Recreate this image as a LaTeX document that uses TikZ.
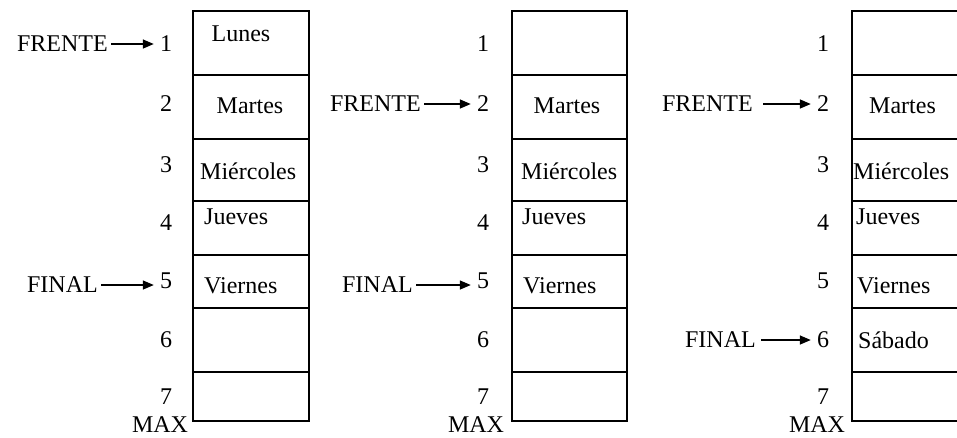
\documentclass[tikz,border=0pt]{standalone}
\usepackage{fontspec}
\setmainfont{Liberation Serif}
\usetikzlibrary{arrows.meta}
\tikzset{
  x=1pt,y=-1pt,
  every node/.style={font=\fontsize{24}{27}\selectfont, inner sep=0pt},
  cellbox/.style={draw, line width=1.5pt},
  num/.style={anchor=center},
  maxlbl/.style={anchor=base},
  ptr/.style={line width=1.4pt, -{Triangle[length=11pt,width=9pt]}, shorten >=6pt, shorten <=3pt},
  lbl/.style={anchor=east},
  txt/.style={anchor=west},
}
\begin{document}
\begin{tikzpicture}
\clip (0,0) rectangle (957,437);
\fill[white] (0,0) rectangle (957,437);
% ---------- column 1 ----------
\draw[cellbox] (193,11) rectangle (309,421);
\foreach \yy in {75,139,201,255,308,372} \draw[cellbox] (193,\yy) -- (309,\yy);
\node[num] (a1) at (166,44) {1};
\node[num] (a2) at (166,104) {2};
\node[num] (a3) at (166,165) {3};
\node[num] (a4) at (166,223) {4};
\node[num] (a5) at (166,281) {5};
\node[num] (a6) at (166,340) {6};
\node[num] (a7) at (166,397) {7};
\node[maxlbl] (amax) at (160,432) {MAX};
\node (alun) at (241,34) {Lunes};
\node (amar) at (250,106) {Martes};
\node[txt] (amie) at (200,171) {Miércoles};
\node[txt] (ajue) at (204,217) {Jueves};
\node[txt] (avie) at (204,286) {Viernes};
\node[lbl] (afr) at (108,44) {FRENTE};
\node[lbl] (afi) at (98,285) {FINAL};
\draw[ptr] (afr.east) -- (afr.east -| a1.west);
\draw[ptr] (afi.east) -- (afi.east -| a5.west);
% ---------- column 2 ----------
\draw[cellbox] (512,11) rectangle (627,421);
\foreach \yy in {75,139,201,255,308,372} \draw[cellbox] (512,\yy) -- (627,\yy);
\node[num] (b1) at (483,44) {1};
\node[num] (b2) at (483,104) {2};
\node[num] (b3) at (483,165) {3};
\node[num] (b4) at (483,223) {4};
\node[num] (b5) at (483,281) {5};
\node[num] (b6) at (483,340) {6};
\node[num] (b7) at (483,397) {7};
\node[maxlbl] (bmax) at (476,432) {MAX};
\node (bmar) at (567,106) {Martes};
\node[txt] (bmie) at (521,171) {Miércoles};
\node[txt] (bjue) at (522,217) {Jueves};
\node[txt] (bvie) at (523,286) {Viernes};
\node[lbl] (bfr) at (421,104) {FRENTE};
\node[lbl] (bfi) at (413,285) {FINAL};
\draw[ptr] (bfr.east) -- (bfr.east -| b2.west);
\draw[ptr] (bfi.east) -- (bfi.east -| b5.west);
% ---------- column 3 ----------
\draw[cellbox] (852,11) rectangle (975,421);
\foreach \yy in {75,139,201,255,308,372} \draw[cellbox] (852,\yy) -- (975,\yy);
\node[num] (c1) at (823,44) {1};
\node[num] (c2) at (823,104) {2};
\node[num] (c3) at (823,165) {3};
\node[num] (c4) at (823,223) {4};
\node[num] (c5) at (823,281) {5};
\node[num] (c6) at (823,340) {6};
\node[num] (c7) at (823,397) {7};
\node[maxlbl] (cmax) at (817,432) {MAX};
\node[txt] (cmar) at (869,106) {Martes};
\node[txt] (cmie) at (853,171) {Miércoles};
\node[txt] (cjue) at (856,217) {Jueves};
\node[txt] (cvie) at (857,286) {Viernes};
\node[txt] (csab) at (858,340) {Sábado};
\node[lbl] (cfr) at (753,104) {FRENTE};
\node[lbl] (cfi) at (756,340) {FINAL};
\draw[ptr, shorten <=10pt] (cfr.east) -- (cfr.east -| c2.west);
\draw[ptr, shorten <=5pt] (cfi.east) -- (cfi.east -| c6.west);
\end{tikzpicture}
\end{document}
